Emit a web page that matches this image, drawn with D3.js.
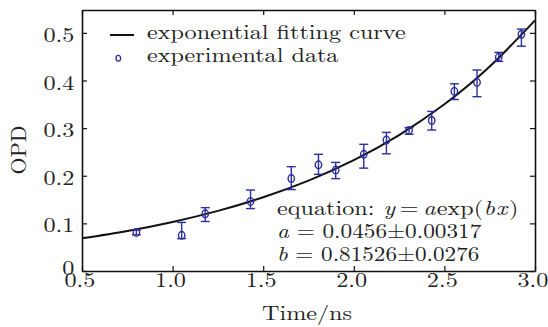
<!DOCTYPE html>
<html>
<head>
<meta charset="utf-8">
<script src="https://cdn.jsdelivr.net/npm/d3@7/dist/d3.min.js"></script>
<style>
  body { margin: 0; background: #fff; }
  svg { display: block; }
  text { font-family: "Latin Modern Roman", "Liberation Serif", serif; fill: #222; }
</style>
</head>
<body>
<div id="chart"></div>
<script>
// measured points (Time/ns, OPD) and error bar ends
var times  = [0.80, 1.05, 1.18, 1.43, 1.655, 1.805, 1.90, 2.055, 2.18, 2.305, 2.43, 2.555, 2.68, 2.80, 2.925];
var opd    = [0.081, 0.075, 0.120, 0.146, 0.194, 0.223, 0.212, 0.245, 0.275, 0.295, 0.316, 0.377, 0.396, 0.449, 0.497];
var errLow = [0.076, 0.068, 0.104, 0.131, 0.171, 0.203, 0.194, 0.216, 0.246, 0.287, 0.296, 0.360, 0.366, 0.440, 0.472];
var errHigh= [0.086, 0.102, 0.133, 0.170, 0.219, 0.245, 0.228, 0.266, 0.291, 0.301, 0.335, 0.393, 0.422, 0.459, 0.508];

// fitted curve
var fitX = [0.5, 0.75, 1.0, 1.25, 1.5, 1.75, 2.0, 2.25, 2.5, 2.75, 3.0];
var fitY = [0.0685, 0.084, 0.103, 0.1263, 0.1549, 0.1899, 0.2328, 0.2855, 0.350, 0.4292, 0.5262];

var xTicks = [0.5, 1.0, 1.5, 2.0, 2.5, 3.0];
var yTicks = [0, 0.1, 0.2, 0.3, 0.4, 0.5];

var width = 548, height = 327;
var margin = { top: 10, right: 13, bottom: 56, left: 82 };
var w = width - margin.left - margin.right,
    h = height - margin.top - margin.bottom;

var blue = "#2b2f9c";
var fs = 20.5;      // font size
var sx = 1.18;      // the reference text is drawn a bit wide

var svg = d3.select("#chart").append("svg")
  .attr("width", width)
  .attr("height", height);

var g = svg.append("g")
  .attr("transform", "translate(" + margin.left + "," + margin.top + ")");

var x = d3.scaleLinear().domain([0.5, 3.0]).range([0, w]);
var y = d3.scaleLinear().domain([0, 0.548]).range([h, 0]);

// fitted curve (clipped to plot)
g.append("clipPath").attr("id", "clip")
  .append("rect").attr("width", w).attr("height", h);

var line = d3.line()
  .x(function(d, i) { return x(fitX[i]); })
  .y(function(d) { return y(d); })
  .curve(d3.curveNatural);

g.append("path")
  .attr("clip-path", "url(#clip)")
  .attr("d", line(fitY))
  .attr("fill", "none")
  .attr("stroke", "#111")
  .attr("stroke-width", 2);

// error bars
var pts = times.map(function(t, i) {
  return { t: t, v: opd[i], lo: errLow[i], hi: errHigh[i] };
});

var eb = g.selectAll("g.eb").data(pts).enter().append("g").attr("class", "eb")
  .attr("stroke", blue).attr("stroke-width", 1.4).attr("fill", "none");

eb.append("line")
  .attr("x1", function(d) { return x(d.t); }).attr("x2", function(d) { return x(d.t); })
  .attr("y1", function(d) { return y(d.lo); }).attr("y2", function(d) { return y(d.hi); });
eb.append("line")
  .attr("x1", function(d) { return x(d.t) - 4.5; }).attr("x2", function(d) { return x(d.t) + 4.5; })
  .attr("y1", function(d) { return y(d.lo); }).attr("y2", function(d) { return y(d.lo); });
eb.append("line")
  .attr("x1", function(d) { return x(d.t) - 4.5; }).attr("x2", function(d) { return x(d.t) + 4.5; })
  .attr("y1", function(d) { return y(d.hi); }).attr("y2", function(d) { return y(d.hi); });
eb.append("ellipse")
  .attr("cx", function(d) { return x(d.t); })
  .attr("cy", function(d) { return y(d.v); })
  .attr("rx", 3.2).attr("ry", 3.8);

// axes with inward ticks
var fmtX = d3.format(".1f");
var fmtY = function(d) { return d === 0 ? "0" : d3.format(".1f")(d); };

var axBottom = g.append("g").attr("transform", "translate(0," + h + ")")
  .call(d3.axisBottom(x).tickValues(xTicks).tickFormat(fmtX).tickSizeInner(-5).tickSizeOuter(0).tickPadding(1.5));
var axLeft = g.append("g")
  .call(d3.axisLeft(y).tickValues(yTicks).tickFormat(fmtY).tickSizeInner(-5).tickSizeOuter(0).tickPadding(6.5));
var axTop = g.append("g")
  .call(d3.axisTop(x).tickValues(xTicks).tickFormat("").tickSizeInner(-5).tickSizeOuter(0));
var axRight = g.append("g").attr("transform", "translate(" + w + ",0)")
  .call(d3.axisRight(y).tickValues(yTicks).tickFormat("").tickSizeInner(-5).tickSizeOuter(0));

[axBottom, axLeft, axTop, axRight].forEach(function(a) {
  a.select(".domain").attr("stroke", "#111").attr("stroke-width", 1.6);
  a.selectAll(".tick line").attr("stroke", "#111").attr("stroke-width", 1.2);
  a.selectAll(".tick text")
    .attr("font-family", null)
    .attr("font-size", fs).attr("fill", "#222")
    .attr("transform", "scale(" + sx + ",1)");
});
axLeft.selectAll(".tick text").attr("dy", function(d) { return d === 0 ? "0.16em" : "0.42em"; });
axBottom.selectAll(".tick text").attr("x", -2.6 / sx);

function place(sel, px, py, s) {
  return sel.attr("transform", "translate(" + px + "," + py + ") scale(" + (s || sx) + ",1)");
}

// axis titles
place(svg.append("text"), 307, 319.5)
  .attr("text-anchor", "middle")
  .attr("font-size", fs)
  .text("Time/ns");

svg.append("text")
  .attr("transform", "translate(25.5,150) rotate(-90)")
  .attr("text-anchor", "middle")
  .attr("font-size", 22)
  .text("OPD");

// legend
var legend = svg.append("g");
legend.append("line")
  .attr("x1", 110).attr("x2", 134).attr("y1", 35).attr("y2", 35)
  .attr("stroke", "#111").attr("stroke-width", 2);
place(legend.append("text"), 147, 38.5)
  .attr("font-size", fs).text("exponential fitting curve");
legend.append("ellipse")
  .attr("cx", 118.3).attr("cy", 58.3).attr("rx", 2.3).attr("ry", 2.9)
  .attr("fill", "none").attr("stroke", blue).attr("stroke-width", 1.3);
place(legend.append("text"), 147, 61.7)
  .attr("font-size", fs).text("experimental data");

// fit parameters annotation
var ann = svg.append("g").attr("font-size", fs);
var t1 = place(ann.append("text"), 277, 215);
t1.append("tspan").text("equation:");
t1.append("tspan").attr("dx", 7.5).attr("font-style", "italic").text("y");
t1.append("tspan").attr("dx", 4).text("=");
t1.append("tspan").attr("dx", 4).attr("font-style", "italic").text("a");
t1.append("tspan").attr("dx", 1).text("exp(");
t1.append("tspan").attr("dx", 0.5).attr("font-style", "italic").text("b");
t1.append("tspan").attr("dx", 1).attr("font-style", "italic").text("x");
t1.append("tspan").attr("dx", 1.5).text(")");

var t2 = place(ann.append("text"), 277, 237.5, 1.135);
t2.append("tspan").attr("font-style", "italic").text("a");
t2.append("tspan").text(" = 0.0456±0.00317");

var t3 = place(ann.append("text"), 277, 261, 1.13);
t3.append("tspan").attr("font-style", "italic").text("b");
t3.append("tspan").text(" = 0.81526±0.0276");
</script>
</body>
</html>
